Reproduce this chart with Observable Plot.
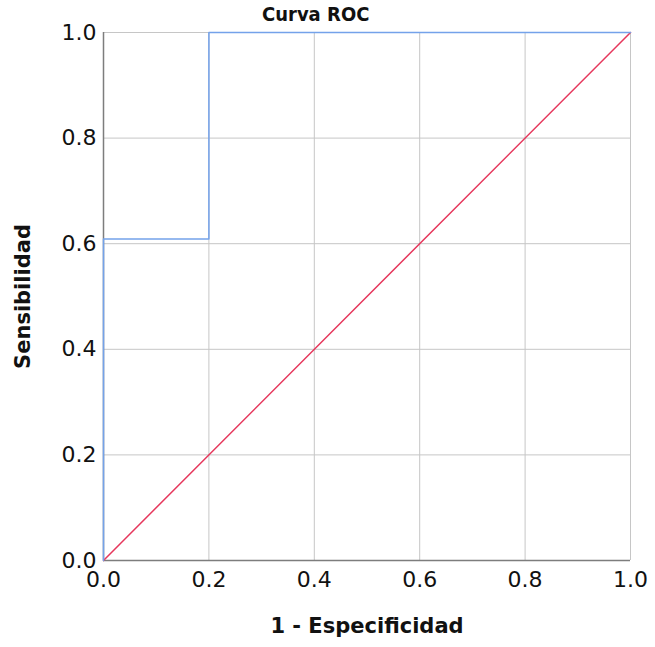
<!DOCTYPE html>
<html>
<head>
<meta charset="utf-8">
<script src="https://cdn.jsdelivr.net/npm/d3@7"></script>
<script src="https://cdn.jsdelivr.net/npm/@observablehq/plot@0.6"></script>
<style>
  html, body { margin: 0; padding: 0; background: #fff; }
  #wrap { position: relative; width: 655px; height: 647px; }
  #title { position: absolute; top: 2px; left: 262px; font: 600 20px "DejaVu Sans Condensed", "DejaVu Sans", sans-serif; color: #111; white-space: nowrap; }
</style>
</head>
<body>
<div id="wrap"><div id="title">Curva ROC</div></div>
<script>
const title = "Curva ROC";
const xLabel = "1 - Especificidad";
const yLabel = "Sensibilidad";
const ticks = [0, 0.2, 0.4, 0.6, 0.8, 1.0];
// ROC curve points (1 - specificity, sensitivity)
const fpr = [0, 0, 0.2, 0.2, 1];
const tpr = [0, 0.609, 0.609, 1, 1];
// reference diagonal
const refX = [0, 1];
const refY = [0, 1];

const roc = fpr.map((x, i) => ({x, y: tpr[i]}));
const ref = refX.map((x, i) => ({x, y: refY[i]}));

const chart = Plot.plot({
  width: 655,
  height: 647,
  marginLeft: 103,
  marginRight: 25,
  marginTop: 32,
  marginBottom: 87,
  style: {fontFamily: "DejaVu Sans, sans-serif", fontSize: "22px", color: "#111", background: "#fff"},
  x: {domain: [0, 1]},
  y: {domain: [0, 1]},
  marks: [
    Plot.gridX(ticks, {stroke: "#c6c6c6", strokeOpacity: 1, strokeWidth: 1}),
    Plot.gridY(ticks, {stroke: "#c6c6c6", strokeOpacity: 1, strokeWidth: 1}),
    Plot.ruleX([0], {stroke: "#7d7d7d", strokeWidth: 1.5}),
    Plot.ruleY([0], {stroke: "#7d7d7d", strokeWidth: 1.5}),
    Plot.axisX(ticks, {tickSize: 0, tickPadding: 11, tickFormat: d3.format(".1f"), label: xLabel, labelArrow: "none", labelAnchor: "center", labelOffset: 72, fontSize: 22}),
    Plot.axisY(ticks, {tickSize: 0, tickPadding: 7, tickFormat: d3.format(".1f"), label: yLabel, labelArrow: "none", labelAnchor: "center", labelOffset: 88, fontSize: 22}),
    Plot.line(ref, {x: "x", y: "y", stroke: "#e6375c", strokeWidth: 1.5}),
    Plot.line(roc, {x: "x", y: "y", stroke: "#74a2ea", strokeWidth: 1.5})
  ]
});
d3.select(chart).selectAll("g[aria-label='x-axis label'] text, g[aria-label='y-axis label'] text")
  .attr("font-weight", "bold").attr("font-size", 21)
  .text(function() { return this.textContent.replace(/\s*[→↑←↓]\s*/g, ""); });
document.getElementById("wrap").prepend(chart);
</script>
</body>
</html>
